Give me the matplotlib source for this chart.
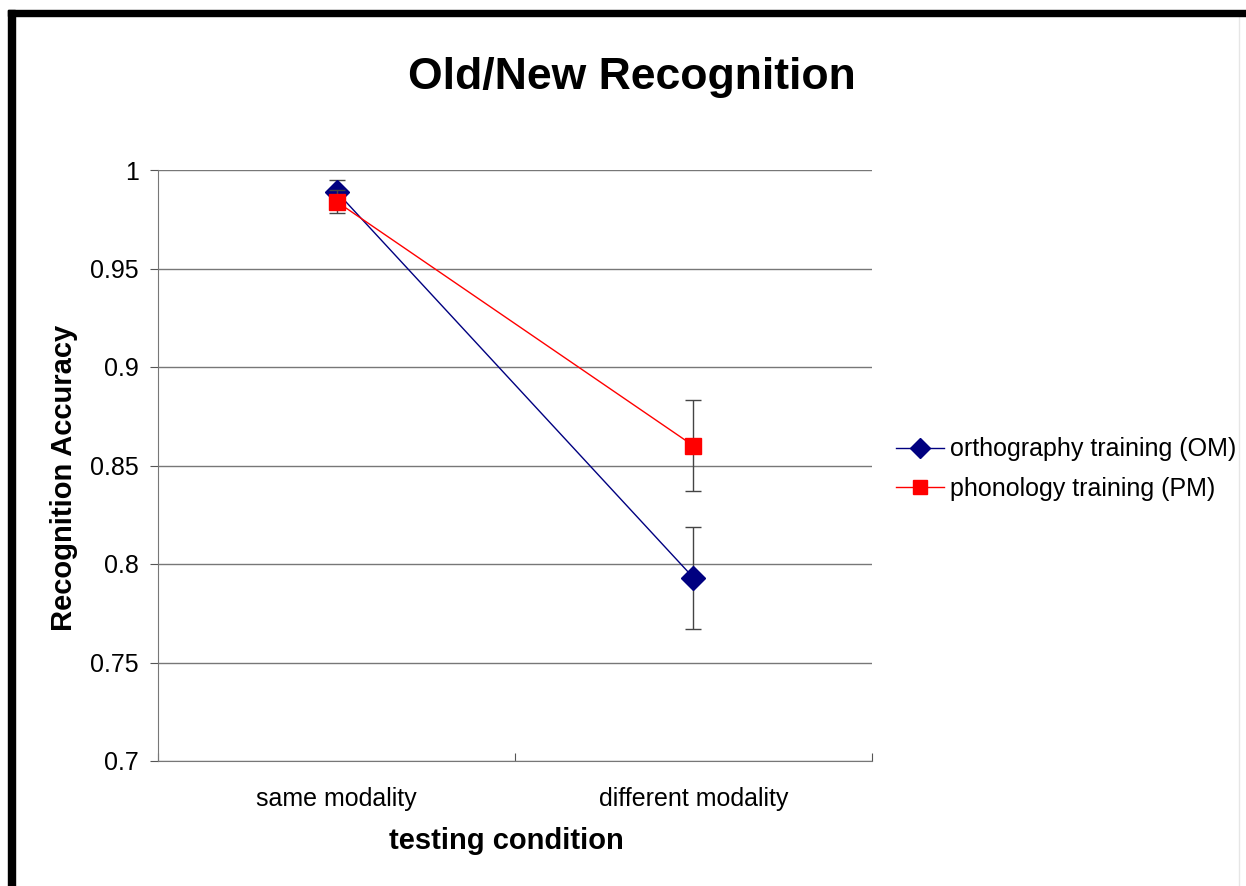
import matplotlib.pyplot as plt
from matplotlib.patches import Rectangle
from matplotlib.lines import Line2D

# data
conditions = ["same modality", "different modality"]
om_acc = [0.989, 0.793]
om_err = [0.006, 0.026]
pm_acc = [0.984, 0.860]
pm_err = [0.006, 0.023]
yticks = [0.7, 0.75, 0.8, 0.85, 0.9, 0.95, 1.0]
ytick_labels = ["0.7", "0.75", "0.8", "0.85", "0.9", "0.95", "1"]

plt.rcParams['font.family'] = ['Liberation Sans', 'DejaVu Sans']

W, H = 1246, 886
fig = plt.figure(figsize=(W / 100, H / 100), dpi=100)
fig.patch.set_facecolor("white")
ax = fig.add_axes([158 / W, 1 - 761 / H, (872 - 158) / W, (761 - 170) / H])

x = [0.5, 1.5]
ax.errorbar(x, om_acc, yerr=om_err, color="#000080", marker="D", markersize=12,
            linewidth=1, ecolor="#444444", elinewidth=1, capsize=6, capthick=1,
            label="orthography training (OM)", zorder=3)
ax.errorbar(x, pm_acc, yerr=pm_err, color="#ff0000", marker="s", markersize=12,
            linewidth=1, ecolor="#444444", elinewidth=1, capsize=6, capthick=1,
            label="phonology training (PM)", zorder=4)

ax.set_xlim(0, 2)
ax.set_ylim(0.7, 1.0)
ax.set_yticks(yticks)
ax.set_yticklabels(ytick_labels, fontsize=18)
ax.set_xticks([0, 1, 2], minor=False)
ax.set_xticklabels([])
ax.set_xticks(x, minor=True)
ax.set_xticklabels(conditions, minor=True, fontsize=18)
ax.tick_params(axis="x", which="minor", length=0, pad=19)
ax.tick_params(axis="x", which="major", length=6, direction="in", color="#555555")
ax.tick_params(axis="y", length=6, direction="out", color="#555555", pad=8)
ax.yaxis.grid(True, color="#777777", linewidth=1)
ax.set_axisbelow(True)
for s in ["top", "right"]:
    ax.spines[s].set_visible(False)
for s in ["left", "bottom"]:
    ax.spines[s].set_color("#777777")

ax.set_ylabel("Recognition Accuracy", fontsize=21, fontweight="bold", va="center")
ax.yaxis.set_label_coords((64 - 158) / 714, (761 - 478) / 591)
ax.set_xlabel("testing condition", fontsize=21, fontweight="bold", va="center")
ax.xaxis.set_label_coords((506 - 158) / 714, (761 - 841) / 591)
fig.text(632 / W, 1 - 77 / H, "Old/New Recognition", fontsize=32, fontweight="bold",
         ha="center", va="center")

handles = [
    Line2D([], [], color="#000080", marker="D", markersize=10, linewidth=1),
    Line2D([], [], color="#ff0000", marker="s", markersize=10, linewidth=1),
]
fig.legend(handles, ["orthography training (OM)", "phonology training (PM)"],
           loc="center left", bbox_to_anchor=(891 / W, 1 - 469 / H), frameon=False,
           fontsize=18, handlelength=1.9, handletextpad=0.25, labelspacing=0.62,
           borderpad=0.2, borderaxespad=0)

# frame around the picture
fig.patches.append(Rectangle((8 / W, 0), 7 / W, 1 - 10 / H, transform=fig.transFigure,
                             color="black", zorder=10))
fig.patches.append(Rectangle((8 / W, 1 - 16 / H), 1 - 8 / W, 6 / H, transform=fig.transFigure,
                             color="black", zorder=10))
fig.lines.append(Line2D([1239 / W, 1239 / W], [0, 1 - 16 / H], transform=fig.transFigure,
                        color="#e6e6e6", linewidth=1))

fig.savefig("out.png", dpi=100)
